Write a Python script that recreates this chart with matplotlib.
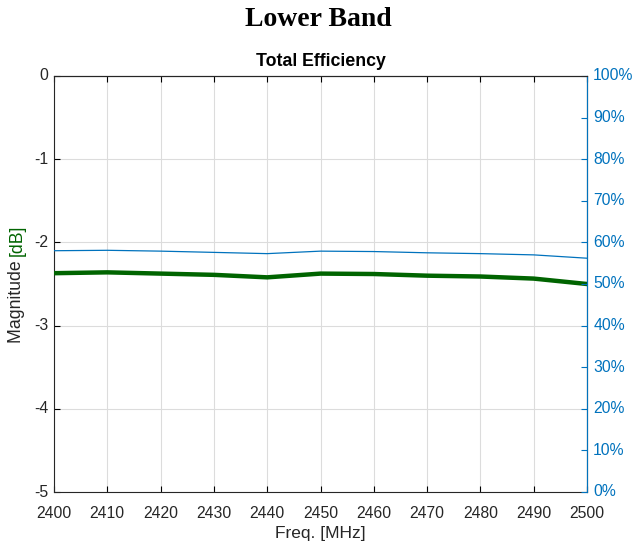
import matplotlib
matplotlib.use("Agg")
import matplotlib.pyplot as plt
import numpy as np

freq = [2400, 2410, 2420, 2430, 2440, 2450, 2460, 2470, 2480, 2490, 2500]
mag_db = [-2.37, -2.36, -2.375, -2.39, -2.42, -2.375, -2.38, -2.40, -2.41, -2.435, -2.50]
eff_pct = [58.0, 58.1, 57.9, 57.6, 57.3, 57.9, 57.8, 57.5, 57.3, 57.0, 56.2]
x_ticks = list(range(2400, 2501, 10))
left_ticks = [0, -1, -2, -3, -4, -5]
right_ticks = list(range(0, 101, 10))

plt.rcParams['font.family'] = ['Liberation Sans', 'DejaVu Sans']
GREEN = '#006400'
BLUE = '#0072BD'

fig = plt.figure(figsize=(6.37, 5.47), dpi=100)
ax = fig.add_axes([54/637, 55/547, (587-54)/637, (492-76)/547])
ax2 = ax.twinx()

ax.plot(freq, mag_db, color=GREEN, lw=3.2, zorder=3)
ax2.plot(freq, eff_pct, color=BLUE, lw=0.9, zorder=3)

ax.set_xlim(2400, 2500)
ax.set_ylim(-5, 0)
ax2.set_ylim(0, 100)
ax.set_xticks(x_ticks)
ax.set_yticks(left_ticks)
ax.set_yticklabels([str(v) for v in left_ticks])
ax2.set_yticks(right_ticks)
ax2.set_yticklabels([f"{v}%" for v in right_ticks])

ax.grid(True, color='#dcdcdc', lw=0.8)
ax.set_axisbelow(True)
ax.tick_params(axis='both', direction='in', labelsize=11.3, length=4, top=True,
               colors='black', labelcolor='#262626')
ax.tick_params(axis='x', pad=10)
ax.tick_params(axis='y', pad=4)
ax2.tick_params(axis='y', direction='in', labelsize=11.3, length=4, colors=BLUE,
                labelcolor=BLUE, pad=4.5)
for lbl in ax.get_yticklabels() + ax2.get_yticklabels():
    lbl.set_va('center')
for s in ['top', 'bottom', 'left']:
    ax.spines[s].set_color('#262626')
ax2.spines['right'].set_color(BLUE)
ax2.spines['left'].set_visible(False)
ax2.spines['top'].set_color('#262626')
ax2.spines['bottom'].set_visible(False)

ax.set_xlabel('Freq. [MHz]', fontsize=12.5, color='#262626', labelpad=4)
ax.set_title('Total Efficiency', fontsize=12.8, fontweight='bold', pad=7)
fig.text(0.5, 1 - 20/547, 'Lower Band', ha='center', va='center',
         fontsize=20, fontweight='bold', family=['Liberation Serif', 'DejaVu Serif'])

# y-label with coloured unit
t1 = fig.text(17/637, 1 - 343/547, 'Magnitude ', rotation=90, ha='center', va='bottom',
              fontsize=12.7, color='#262626')
fig.canvas.draw()
bb = t1.get_window_extent()
fig.text(17/637, bb.y1 / fig.bbox.height, '[dB]', rotation=90, ha='center', va='bottom',
         fontsize=12.7, color=GREEN)

fig.savefig('out.png', dpi=100)
